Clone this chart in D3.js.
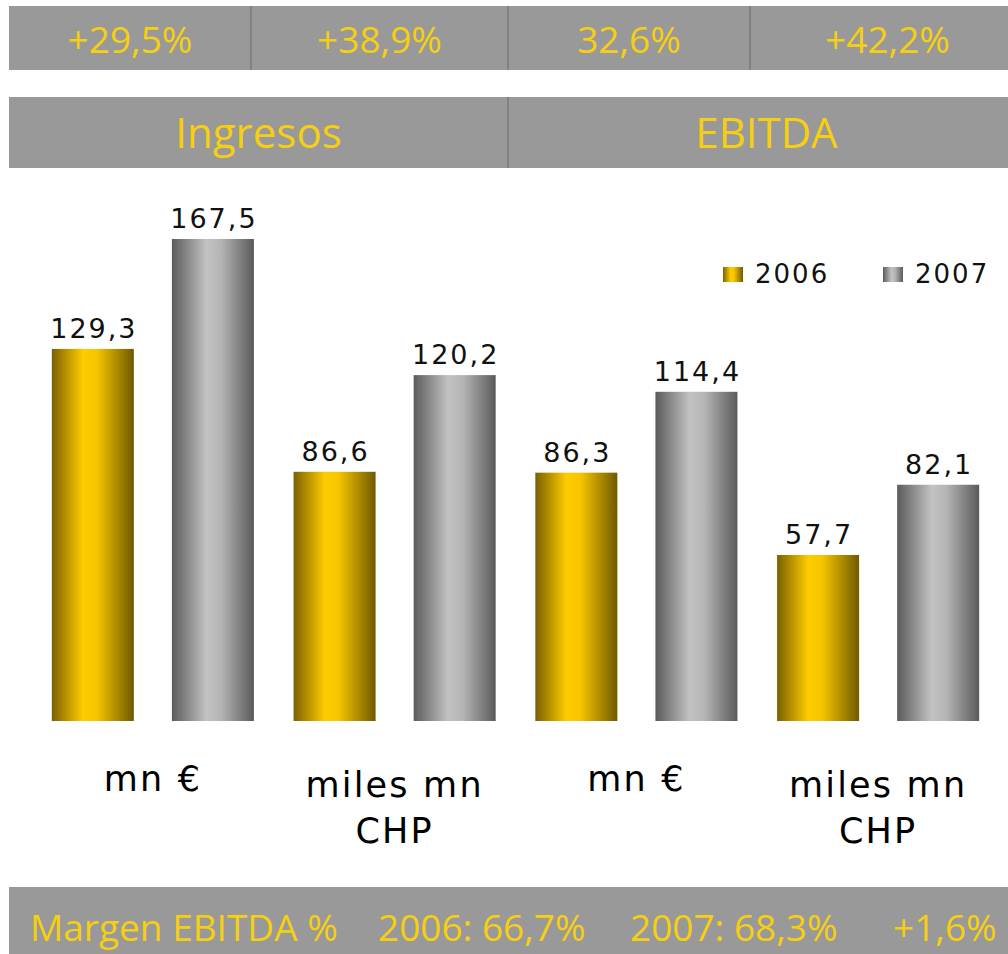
<!DOCTYPE html>
<html>
<head>
<meta charset="utf-8">
<script src="https://cdn.jsdelivr.net/npm/d3@7"></script>
<style>
  html, body { margin: 0; padding: 0; background: #ffffff; }
  svg { display: block; }
</style>
</head>
<body>
<div id="chart"></div>
<script>
// ---------- data ----------
const groups = ["Ingresos mn €", "Ingresos miles mn CHP", "EBITDA mn €", "EBITDA miles mn CHP"];
const groupLabels = [["mn €"], ["miles mn", "CHP"], ["mn €"], ["miles mn", "CHP"]];
const years = ["2006", "2007"];
const values2006 = [129.3, 86.6, 86.3, 57.7];
const values2007 = [167.5, 120.2, 114.4, 82.1];
const growthLabels = ["+29,5%", "+38,9%", "32,6%", "+42,2%"];
const sectionLabels = ["Ingresos", "EBITDA"];
const marginLabels = ["Margen EBITDA %", "2006: 66,7%", "2007: 68,3%", "+1,6%"];

// ---------- setup ----------
const W = 1008, H = 954;
const YELLOW = "#f6cf12";
const BAND = "#999999";
const DIV = "#6a6a6a";

const svg = d3.select("#chart").append("svg")
  .attr("width", W).attr("height", H);

const defs = svg.append("defs");
function grad(id, stops) {
  const g = defs.append("linearGradient").attr("id", id)
    .attr("x1", "0%").attr("x2", "100%").attr("y1", "0%").attr("y2", "0%");
  stops.forEach(([o, c]) => g.append("stop").attr("offset", o).attr("stop-color", c));
}
grad("g2006", [["0%", "#7a6000"], ["38%", "#ffcc00"], ["55%", "#f6c500"], ["100%", "#6f5900"]]);
grad("g2007", [["0%", "#5b5b5b"], ["42%", "#c2c2c2"], ["60%", "#b5b5b5"], ["100%", "#5a5a5a"]]);
const fillFor = { "2006": "url(#g2006)", "2007": "url(#g2007)" };

const locale = d3.formatLocale({ decimal: ",", thousands: ".", grouping: [3], currency: ["", " €"] });
const fmt = locale.format(".1f");

// ---------- top growth band ----------
const topEdges = [9, 251, 508, 750, 1025];
const topY = 6, topH = 64;
svg.append("rect").attr("x", 9).attr("y", topY).attr("width", 1016).attr("height", topH).attr("fill", BAND);
svg.selectAll(".tdiv").data(topEdges.slice(1, -1)).join("line")
  .attr("x1", d => d).attr("x2", d => d).attr("y1", topY).attr("y2", topY + topH)
  .attr("stroke", DIV).attr("stroke-width", 1);
svg.selectAll(".tlab").data(growthLabels).join("text")
  .attr("x", (d, i) => (topEdges[i] + topEdges[i + 1]) / 2)
  .attr("y", 53)
  .attr("text-anchor", "middle")
  .attr("font-family", "Open Sans, sans-serif")
  .attr("font-size", 37)
  .attr("fill", YELLOW)
  .text(d => d);

// ---------- section headers ----------
const secEdges = [9, 508, 1025];
const secY = 97, secH = 71;
svg.append("rect").attr("x", 9).attr("y", secY).attr("width", 1016).attr("height", secH).attr("fill", BAND);
svg.append("line").attr("x1", 508).attr("x2", 508).attr("y1", secY).attr("y2", secY + secH)
  .attr("stroke", DIV).attr("stroke-width", 1);
svg.selectAll(".slab").data(sectionLabels).join("text")
  .attr("x", (d, i) => (secEdges[i] + secEdges[i + 1]) / 2)
  .attr("y", 148)
  .attr("text-anchor", "middle")
  .attr("font-family", "Open Sans, sans-serif")
  .attr("font-size", 42)
  .attr("fill", YELLOW)
  .text(d => d);

// ---------- bars ----------
const x0 = d3.scaleBand().domain(groups).range([32, 999]).paddingInner(0.164).paddingOuter(0.082);
const x1 = d3.scaleBand().domain(years).range([0, x0.bandwidth()]).paddingInner(0.317).paddingOuter(0);
const baseY = 721;
const y = d3.scaleLinear().domain([0, 167.5]).range([baseY, 239]);

const rows = groups.map((g, i) => ({
  group: g,
  vals: [{ year: "2006", v: values2006[i] }, { year: "2007", v: values2007[i] }]
}));

const gGroups = svg.selectAll(".grp").data(rows).join("g")
  .attr("transform", d => `translate(${x0(d.group)},0)`);

gGroups.selectAll("rect").data(d => d.vals).join("rect")
  .attr("x", d => x1(d.year))
  .attr("y", d => y(d.v))
  .attr("width", x1.bandwidth())
  .attr("height", d => y(0) - y(d.v))
  .attr("fill", d => fillFor[d.year]);

gGroups.selectAll(".vlab").data(d => d.vals).join("text")
  .attr("x", d => x1(d.year) + x1.bandwidth() / 2 + 1)
  .attr("y", d => y(d.v) - 11)
  .attr("text-anchor", "middle")
  .attr("font-family", "DejaVu Sans, sans-serif")
  .attr("font-size", 27)
  .attr("letter-spacing", 2)
  .attr("fill", "#111")
  .text(d => fmt(d.v));

// ---------- category labels ----------
const catG = svg.selectAll(".cat").data(groups).join("text")
  .attr("text-anchor", "middle")
  .attr("font-family", "DejaVu Sans, sans-serif")
  .attr("font-size", 35)
  .attr("letter-spacing", 2.2)
  .attr("fill", "#000");
catG.each(function (g, i) {
  const lines = groupLabels[i];
  const cx = x0(g) + x0.bandwidth() / 2;
  const startY = lines.length === 1 ? 791 : 797;
  d3.select(this).selectAll("tspan").data(lines).join("tspan")
    .attr("x", cx)
    .attr("y", (d, j) => startY + j * 46)
    .text(d => d);
});

// ---------- legend ----------
const legendX = [723, 883];
const leg = svg.selectAll(".leg").data(years).join("g")
  .attr("transform", (d, i) => `translate(${legendX[i]},267)`);
leg.append("rect").attr("width", 20).attr("height", 15).attr("fill", d => fillFor[d]);
leg.append("text")
  .attr("x", 32).attr("y", 16)
  .attr("font-family", "DejaVu Sans, sans-serif")
  .attr("font-size", 26)
  .attr("letter-spacing", 2)
  .attr("fill", "#111")
  .text(d => d);

// ---------- bottom margin band ----------
svg.append("rect").attr("x", 9).attr("y", 887).attr("width", 1016).attr("height", 70).attr("fill", BAND);
const marginX = [30, 378, 630, 893];
svg.selectAll(".mlab").data(marginLabels).join("text")
  .attr("x", (d, i) => marginX[i])
  .attr("y", 941)
  .attr("font-family", "Open Sans, sans-serif")
  .attr("font-size", 37)
  .attr("fill", YELLOW)
  .text(d => d);
</script>
</body>
</html>
